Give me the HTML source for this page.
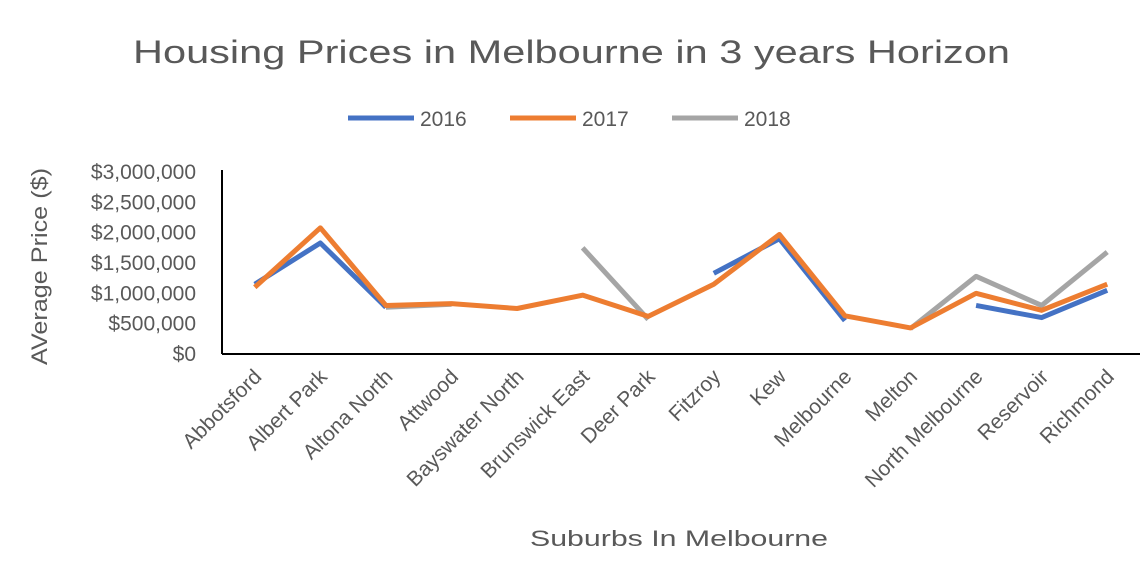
<!DOCTYPE html>
<html><head><meta charset="utf-8"><style>
body{margin:0;background:#fff;}
svg text{font-family:"Liberation Sans",sans-serif;fill:#595959;}
</style></head><body>
<svg width="1146" height="558" xmlns="http://www.w3.org/2000/svg">
<rect width="1146" height="558" fill="#fff"/>
<text x="133" y="63" font-size="32" textLength="877" lengthAdjust="spacingAndGlyphs">Housing Prices in Melbourne in 3 years Horizon</text>
<g id="legend"></g>
<g id="axes"></g>
<g id="plot"></g>
<text x="530" y="546" font-size="22" textLength="298" lengthAdjust="spacingAndGlyphs">Suburbs In Melbourne</text>
<text transform="translate(47,365) rotate(-90)" font-size="22" textLength="197" lengthAdjust="spacingAndGlyphs">AVerage Price ($)</text>
</svg>
<script>
const categories=["Abbotsford","Albert Park","Altona North","Attwood","Bayswater North","Brunswick East","Deer Park","Fitzroy","Kew","Melbourne","Melton","North Melbourne","Reservoir","Richmond"];
const s2016=[1150000,1830000,770000,null,null,null,null,1330000,1900000,550000,null,800000,600000,1050000];
const s2017=[1100000,2080000,800000,830000,750000,970000,620000,1150000,1970000,630000,430000,1000000,720000,1150000];
const s2018=[null,null,770000,820000,null,1750000,570000,null,null,null,420000,1280000,800000,1680000];
const seriesNames=["2016","2017","2018"];
const yTicks=[0,500000,1000000,1500000,2000000,2500000,3000000];
const yTickLabels=["$0","$500,000","$1,000,000","$1,500,000","$2,000,000","$2,500,000","$3,000,000"];
const colors=["#4472C4","#ED7D31","#A5A5A5"];
const NS="http://www.w3.org/2000/svg";
const X0=222,X1=1140,Y0=354,Y1=172;
const band=(X1-X0)/categories.length;
const xs=i=>X0+band*(i+0.5);
const ys=v=>Y0-(v/3000000)*(Y0-Y1);
function mk(tag,attrs,parent){const e=document.createElementNS(NS,tag);for(const k in attrs)e.setAttribute(k,attrs[k]);parent.appendChild(e);return e;}
const axes=document.getElementById('axes'),plot=document.getElementById('plot'),legend=document.getElementById('legend');
let ya=mk('line',{x1:X0,y1:Y1-2,x2:X0,y2:Y0,stroke:'#000','stroke-width':2},axes);

let xa=mk('line',{x1:X0,y1:Y0,x2:X1,y2:Y0,stroke:'#000','stroke-width':2},axes);

yTicks.forEach((v,i)=>{const t=mk('text',{x:X0-26,y:ys(v)+7,'font-size':21,'text-anchor':'end'},axes);t.textContent=yTickLabels[i];
});
categories.forEach((c,i)=>{const x=xs(i)+8,y=Y0+24;const t=mk('text',{x:x,y:y,'font-size':21,'text-anchor':'end',transform:`rotate(-45 ${x} ${y})`},axes);t.textContent=c;
});
[0,2,1].forEach(si=>{const s=[s2016,s2017,s2018][si];let d='',pen=false;s.forEach((v,i)=>{if(v==null){pen=false;return;}d+=(pen?'L':'M')+xs(i)+' '+ys(v)+' ';pen=true;});
const p=mk('path',{d:d,fill:'none',stroke:colors[si],'stroke-width':5,'stroke-linejoin':'round'},plot);

});
const lx=[348,510,672];
seriesNames.forEach((n,i)=>{const g=mk('g',{},legend);


mk('line',{x1:lx[i],y1:118,x2:lx[i]+66,y2:118,stroke:colors[i],'stroke-width':5},g);
const t=mk('text',{x:lx[i]+72,y:126,'font-size':21},g);t.textContent=n;});
</script>
</body></html>
